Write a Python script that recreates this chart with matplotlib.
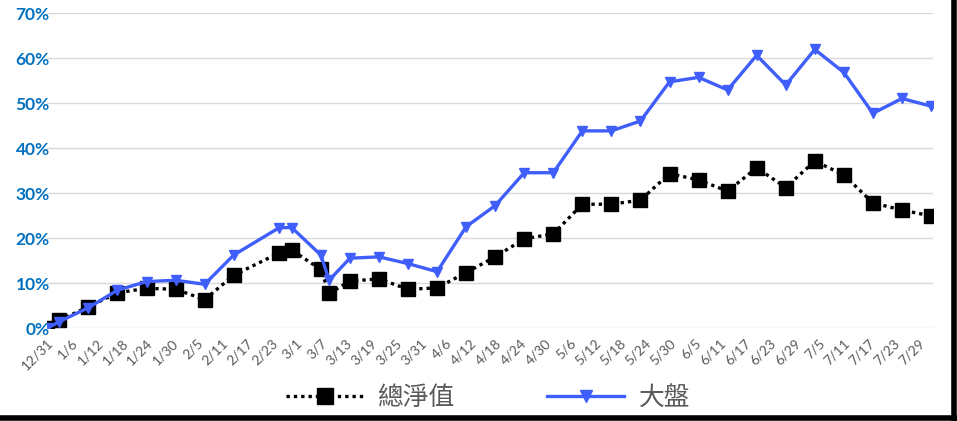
import datetime as dt
import numpy as np
import matplotlib
matplotlib.use("Agg")
import matplotlib.pyplot as plt
from matplotlib.lines import Line2D

plt.rcParams['font.family'] = ['Lato', 'Noto Sans CJK TC', 'DejaVu Sans']

# data (returns in %)
dates = ["2022-12-31", "2023-01-03", "2023-01-10", "2023-01-17", "2023-01-24",
         "2023-01-31", "2023-02-07", "2023-02-14", "2023-02-25", "2023-02-28",
         "2023-03-07", "2023-03-09", "2023-03-14", "2023-03-21", "2023-03-28",
         "2023-04-04", "2023-04-11", "2023-04-18", "2023-04-25", "2023-05-02",
         "2023-05-09", "2023-05-16", "2023-05-23", "2023-05-30", "2023-06-06",
         "2023-06-13", "2023-06-20", "2023-06-27", "2023-07-04", "2023-07-11",
         "2023-07-18", "2023-07-25", "2023-08-01"]
nav = [0.0, 1.8, 4.8, 7.9, 8.9, 8.7, 6.4, 11.8, 16.8, 17.4,
       13.1, 7.8, 10.5, 11.0, 8.7, 9.0, 12.4, 15.9, 19.9, 21.0,
       27.6, 27.6, 28.5, 34.4, 33.0, 30.5, 35.7, 31.3, 37.2, 34.1,
       27.9, 26.3, 25.0]
market = [0.0, 1.5, 4.6, 8.5, 10.4, 10.7, 9.8, 16.3, 22.4, 22.4,
          16.3, 10.7, 15.6, 15.9, 14.4, 12.6, 22.6, 27.3, 34.6, 34.6,
          43.9, 43.9, 46.1, 54.8, 55.8, 53.0, 60.7, 54.1, 62.0, 56.9,
          47.8, 51.1, 49.4]
series_names = ["總淨值", "大盤"]
y_ticks = [0, 10, 20, 30, 40, 50, 60, 70]

base = dt.date(2022, 12, 31)
days = [(dt.date.fromisoformat(d) - base).days for d in dates]
tick_days = np.arange(0, 211, 6)
tick_labels = []
for t in tick_days:
    d = base + dt.timedelta(days=int(t))
    tick_labels.append(f"{d.month}/{d.day}")

fig = plt.figure(figsize=(9.57, 4.21), dpi=100)
ax = fig.add_axes([0.049, 0.220, 0.926, 0.748])

ax.plot(days, nav, color='black', linestyle=(0, (1, 1.2)), linewidth=2.4,
        marker='s', markersize=9.5, markerfacecolor='black', markeredgecolor='black', zorder=3)
ax.plot(days, market, color='#3F5EFB', linewidth=2.4,
        marker='v', markersize=7, markerfacecolor='#3F5EFB', markeredgecolor='#3F5EFB', zorder=4)

ax.set_xlim(0, 213.5)
ax.set_ylim(0, 70)
ax.set_yticks(y_ticks)
ax.set_yticklabels([f"{v}%" for v in y_ticks], color='#0070C0', fontweight='bold', fontsize=12.5)
ax.set_xticks(tick_days)
ax.set_xticklabels(tick_labels, rotation=45, ha='right', va='top', rotation_mode='anchor',
                   color='#595959', fontsize=10)
ax.tick_params(axis='both', length=0)
ax.tick_params(axis='y', pad=-2)
ax.tick_params(axis='x', pad=6)
ax.grid(axis='y', color='#D9D9D9', linewidth=1)
ax.set_axisbelow(True)
for s in ax.spines.values():
    s.set_visible(False)

handles = [
    Line2D([], [], color='black', linestyle=(0, (1, 1.2)), linewidth=2.4, marker='s',
           markersize=11, markerfacecolor='black'),
    Line2D([], [], color='#3F5EFB', linewidth=2.4, marker='v', markersize=8,
           markerfacecolor='#3F5EFB'),
]
fig.legend(handles, series_names, loc='center', bbox_to_anchor=(0.51, 0.055), ncol=2,
           frameon=False, fontsize=18.5, handlelength=3.0, handletextpad=0.55,
           columnspacing=3.6, labelcolor='#595959')

# dark frame on the right and bottom edges
fig.add_artist(Line2D([0.997, 0.997], [0, 1], transform=fig.transFigure, color='black', linewidth=4))
fig.add_artist(Line2D([0, 1], [0.006, 0.006], transform=fig.transFigure, color='black', linewidth=4))

fig.savefig("out.png", dpi=100)
